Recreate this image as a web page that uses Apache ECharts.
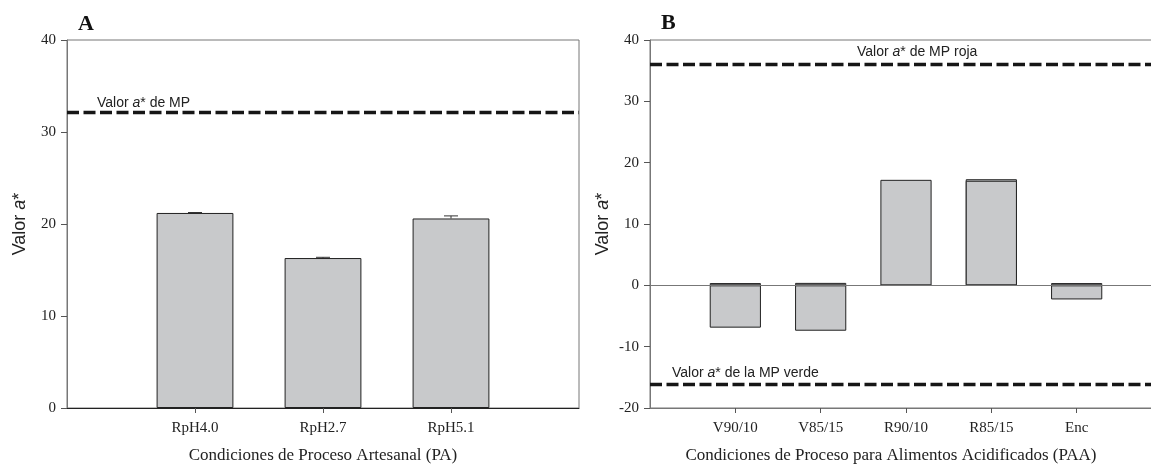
<!DOCTYPE html>
<html>
<head>
<meta charset="utf-8">
<script src="https://cdn.jsdelivr.net/npm/echarts@6/dist/echarts.min.js"></script>
<style>html,body{margin:0;padding:0;background:#fff}#c{width:1151px;height:466px}</style>
</head>
<body>
<div id="c"></div>
<script>
// ---- Panel A data ----
const catsA = ['RpH4.0', 'RpH2.7', 'RpH5.1'];
const valsA = [21.2, 16.3, 20.6];
const errA = [0.05, 0.08, 0.28];
const refA = 32.1;            // Valor a* de MP
const yTicksA = [0, 40, 10];  // min, max, step

// ---- Panel B data ----
const catsB = ['V90/10', 'V85/15', 'R90/10', 'R85/15', 'Enc'];
const valsB = [-6.9, -7.4, 17.2, 17.05, -2.3];
const backB = [0.37, 0.4, 0, 17.3, 0.37];
const refRoja = 36.0;         // Valor a* de MP roja
const refVerde = -16.1;       // Valor a* de la MP verde
const yTicksB = [-20, 40, 10];

const SERIF = 'Liberation Serif';
const SANS = 'Liberation Sans';
const pad = a => ['', ...a, ''];
const padV = a => ['-', ...a, '-'];

const chart = echarts.init(document.getElementById('c'), null, {renderer: 'canvas'});

function xAxisCfg(gi, cats, name, axisColor, namePad) {
  return {
    type: 'category', gridIndex: gi, data: pad(cats), boundaryGap: false,
    axisLine: {onZero: false, lineStyle: {color: axisColor, width: 1}},
    axisTick: {show: true, inside: false, length: 5, interval: (i, v) => v !== '', lineStyle: {color: '#555'}},
    axisLabel: {interval: 0, margin: 13, color: '#222', fontFamily: SERIF, fontSize: 15},
    splitLine: {show: false},
    name: name, nameLocation: 'middle', nameGap: 39,
    nameTextStyle: {fontFamily: SERIF, fontSize: 17, color: '#222', padding: namePad}
  };
}
function yAxisCfg(gi, t) {
  return {
    type: 'value', gridIndex: gi, min: t[0], max: t[1], interval: t[2],
    axisLine: {show: true, lineStyle: {color: '#777'}},
    axisTick: {show: true, inside: false, length: 6, lineStyle: {color: '#555'}},
    axisLabel: {margin: 11, color: '#222', fontFamily: SERIF, fontSize: 15},
    splitLine: {show: false},
    name: 'Valor {i|a}*', nameLocation: 'middle', nameRotate: 90, nameGap: 38,
    nameTextStyle: {fontFamily: SANS, fontSize: 18, color: '#222',
      rich: {i: {fontFamily: SANS, fontSize: 18, fontStyle: 'italic', color: '#222'}}}
  };
}
const barStyle = {color: '#c8c9cb', borderColor: '#222', borderWidth: 1};
const dashStyle = {type: [12, 4.5], width: 3.4, color: '#161616', cap: 'butt'};

const option = {
  animation: false,
  grid: [
    {left: 67, top: 40, width: 512, height: 368, show: true, borderColor: '#777', borderWidth: 1, backgroundColor: 'transparent', containLabel: false, outerBoundsMode: 'none'},
    {left: 650, top: 40, width: 512, height: 368, show: true, borderColor: '#777', borderWidth: 1, backgroundColor: 'transparent', containLabel: false, outerBoundsMode: 'none'}
  ],
  xAxis: [
    xAxisCfg(0, catsA, 'Condiciones de Proceso Artesanal (PA)', '#222', [0, 0, 0, 0]),
    xAxisCfg(1, catsB, 'Condiciones de Proceso para Alimentos Acidificados (PAA)', '#777', [0, 30, 0, 0])
  ],
  yAxis: [yAxisCfg(0, yTicksA), yAxisCfg(1, yTicksB)],
  series: [
    {
      type: 'bar', xAxisIndex: 0, yAxisIndex: 0, data: padV(valsA), barWidth: '60%',
      itemStyle: barStyle,
      markLine: {silent: true, symbol: 'none', label: {show: false}, lineStyle: dashStyle,
        data: [{yAxis: refA}]}
    },
    {
      type: 'custom', xAxisIndex: 0, yAxisIndex: 0, z: 3,
      data: catsA.map((c, i) => [i + 1, valsA[i], errA[i]]),
      renderItem: function (params, api) {
        const x = api.value(0), v = api.value(1), e = api.value(2);
        const top = api.coord([x, v + e]);
        const base = api.coord([x, v]);
        const hw = 7;
        return {type: 'group', children: [
          {type: 'line', shape: {x1: top[0], y1: top[1], x2: base[0], y2: base[1]}, style: {stroke: '#333', lineWidth: 1}},
          {type: 'line', shape: {x1: top[0] - hw, y1: top[1], x2: top[0] + hw, y2: top[1]}, style: {stroke: '#333', lineWidth: 1}}
        ]};
      }
    },
    {
      type: 'bar', xAxisIndex: 1, yAxisIndex: 1, data: padV(backB), barWidth: '60%', barGap: '-100%',
      itemStyle: barStyle, z: 2,
      markLine: {silent: true, symbol: 'none', label: {show: false},
        data: [
          {yAxis: 0, lineStyle: {type: 'solid', width: 1, color: '#777'}},
          {yAxis: refRoja, lineStyle: dashStyle},
          {yAxis: refVerde, lineStyle: dashStyle}
        ]}
    },
    {
      type: 'bar', xAxisIndex: 1, yAxisIndex: 1, data: padV(valsB), barWidth: '60%', barGap: '-100%',
      itemStyle: barStyle, z: 3
    }
  ],
  graphic: [
    {type: 'text', left: 78, top: 13, style: {text: 'A', font: 'bold 22px "Liberation Serif"', fill: '#111'}},
    {type: 'text', left: 661, top: 12, style: {text: 'B', font: 'bold 22px "Liberation Serif"', fill: '#111'}},
    {type: 'text', x: 97, y: 103, style: {text: 'Valor {i|a}* de MP', verticalAlign: 'middle', font: '14px "Liberation Sans"', fill: '#222',
      rich: {i: {fontStyle: 'italic', fontSize: 14, fontFamily: SANS, fill: '#222'}}}},
    {type: 'text', x: 857, y: 52, style: {text: 'Valor {i|a}* de MP roja', verticalAlign: 'middle', font: '14px "Liberation Sans"', fill: '#222',
      rich: {i: {fontStyle: 'italic', fontSize: 14, fontFamily: SANS, fill: '#222'}}}},
    {type: 'text', x: 672, y: 373, style: {text: 'Valor {i|a}* de la MP verde', verticalAlign: 'middle', font: '14px "Liberation Sans"', fill: '#222',
      rich: {i: {fontStyle: 'italic', fontSize: 14, fontFamily: SANS, fill: '#222'}}}}
  ]
};
chart.setOption(option);
</script>
</body>
</html>
